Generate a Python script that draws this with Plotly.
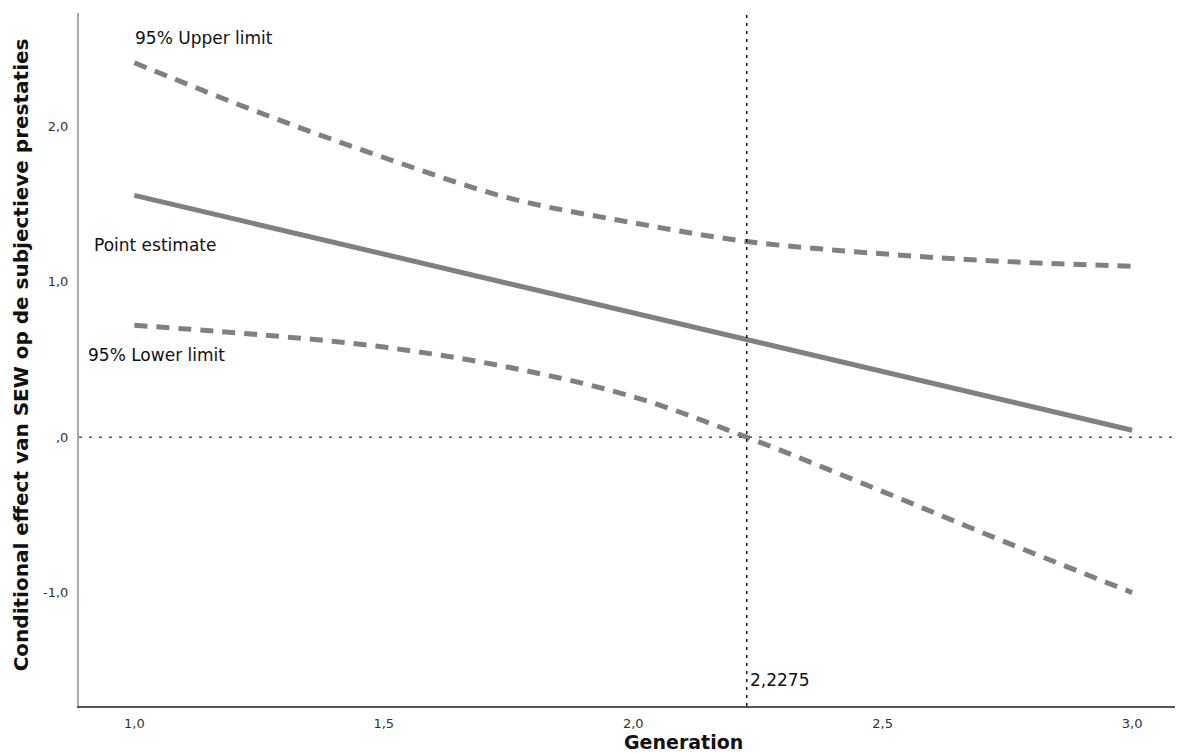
import plotly.graph_objects as go

generation = [1.0, 1.25, 1.5, 1.75, 2.0, 2.2275, 2.5, 2.75, 3.0]
point_estimate = [1.556, 1.367, 1.178, 0.990, 0.801, 0.629, 0.423, 0.234, 0.045]
upper_limit = [2.41, 2.09, 1.80, 1.54, 1.38, 1.26, 1.18, 1.13, 1.10]
lower_limit = [0.72, 0.66, 0.58, 0.45, 0.26, 0.00, -0.35, -0.68, -1.00]

x_tickvals = [1.0, 1.5, 2.0, 2.5, 3.0]
x_ticktext = ["1,0", "1,5", "2,0", "2,5", "3,0"]
y_tickvals = [-1.0, 0.0, 1.0, 2.0]
y_ticktext = ["-1,0", ",0", "1,0", "2,0"]
jn_point = 2.2275

FONT = "DejaVu Sans"
GREY = "#808080"

fig = go.Figure()
fig.add_trace(go.Scatter(x=generation, y=upper_limit, mode="lines",
                         line=dict(color=GREY, width=5, dash="13px,9px", shape="spline"),
                         showlegend=False, hoverinfo="skip"))
fig.add_trace(go.Scatter(x=generation, y=point_estimate, mode="lines",
                         line=dict(color=GREY, width=5),
                         showlegend=False, hoverinfo="skip"))
fig.add_trace(go.Scatter(x=generation, y=lower_limit, mode="lines",
                         line=dict(color=GREY, width=5, dash="13px,9px", shape="spline"),
                         showlegend=False, hoverinfo="skip"))

# reference lines
fig.add_shape(type="line", xref="paper", yref="y", x0=0, x1=1, y0=0, y1=0,
              line=dict(color="#555555", width=1.5, dash="3px,7px"))
fig.add_shape(type="line", xref="x", yref="paper", x0=jn_point, x1=jn_point, y0=0, y1=1,
              line=dict(color="#111111", width=1.5, dash="3px,5px"))

anns = [
    dict(x=0.998, y=2.57, text="95% Upper limit"),
    dict(x=0.915, y=1.235, text="Point estimate"),
    dict(x=0.903, y=0.527, text="95% Lower limit"),
    dict(x=jn_point, y=-1.56, text="2,2275", xshift=1),
]
for a in anns:
    fig.add_annotation(xref="x", yref="y", showarrow=False, xanchor="left", yanchor="middle",
                       font=dict(family=FONT, size=17, color="#111111"), **a)

fig.add_annotation(xref="x", yref="paper", x=2.0, y=0, yshift=-36, xshift=-11,
                   text="<b>Generation</b>", showarrow=False,
                   font=dict(family=FONT, size=19, color="#111111"), xanchor="left", yanchor="middle")
fig.add_annotation(xref="paper", yref="paper", x=0, xshift=-58, y=0.506,
                   text="<b>Conditional effect van SEW op de subjectieve prestaties</b>",
                   textangle=-90, showarrow=False,
                   font=dict(family=FONT, size=20, color="#111111"), xanchor="center", yanchor="middle")

# page body has an 8px margin, so the figure is sized to fit inside the window
fig.update_layout(
    width=1175, height=745,
    margin=dict(l=71, r=0, t=5, b=47),
    paper_bgcolor="white", plot_bgcolor="white",
    font=dict(family=FONT, size=13, color="#333333"),
    xaxis=dict(range=[0.889, 3.102], tickvals=x_tickvals, ticktext=x_ticktext,
               showgrid=False, zeroline=False, showline=True, linecolor="#555555", linewidth=1.5,
               ticks="", ticklabelstandoff=5, tickfont=dict(size=13, color="#333333")),
    yaxis=dict(range=[-1.73, 2.73], tickvals=y_tickvals, ticktext=y_ticktext,
               showgrid=False, zeroline=False, showline=True, linecolor="#aaaaaa", linewidth=2,
               ticks="", ticklabelstandoff=6, tickfont=dict(size=13, color="#333333")),
)

fig.write_html("out.html")
